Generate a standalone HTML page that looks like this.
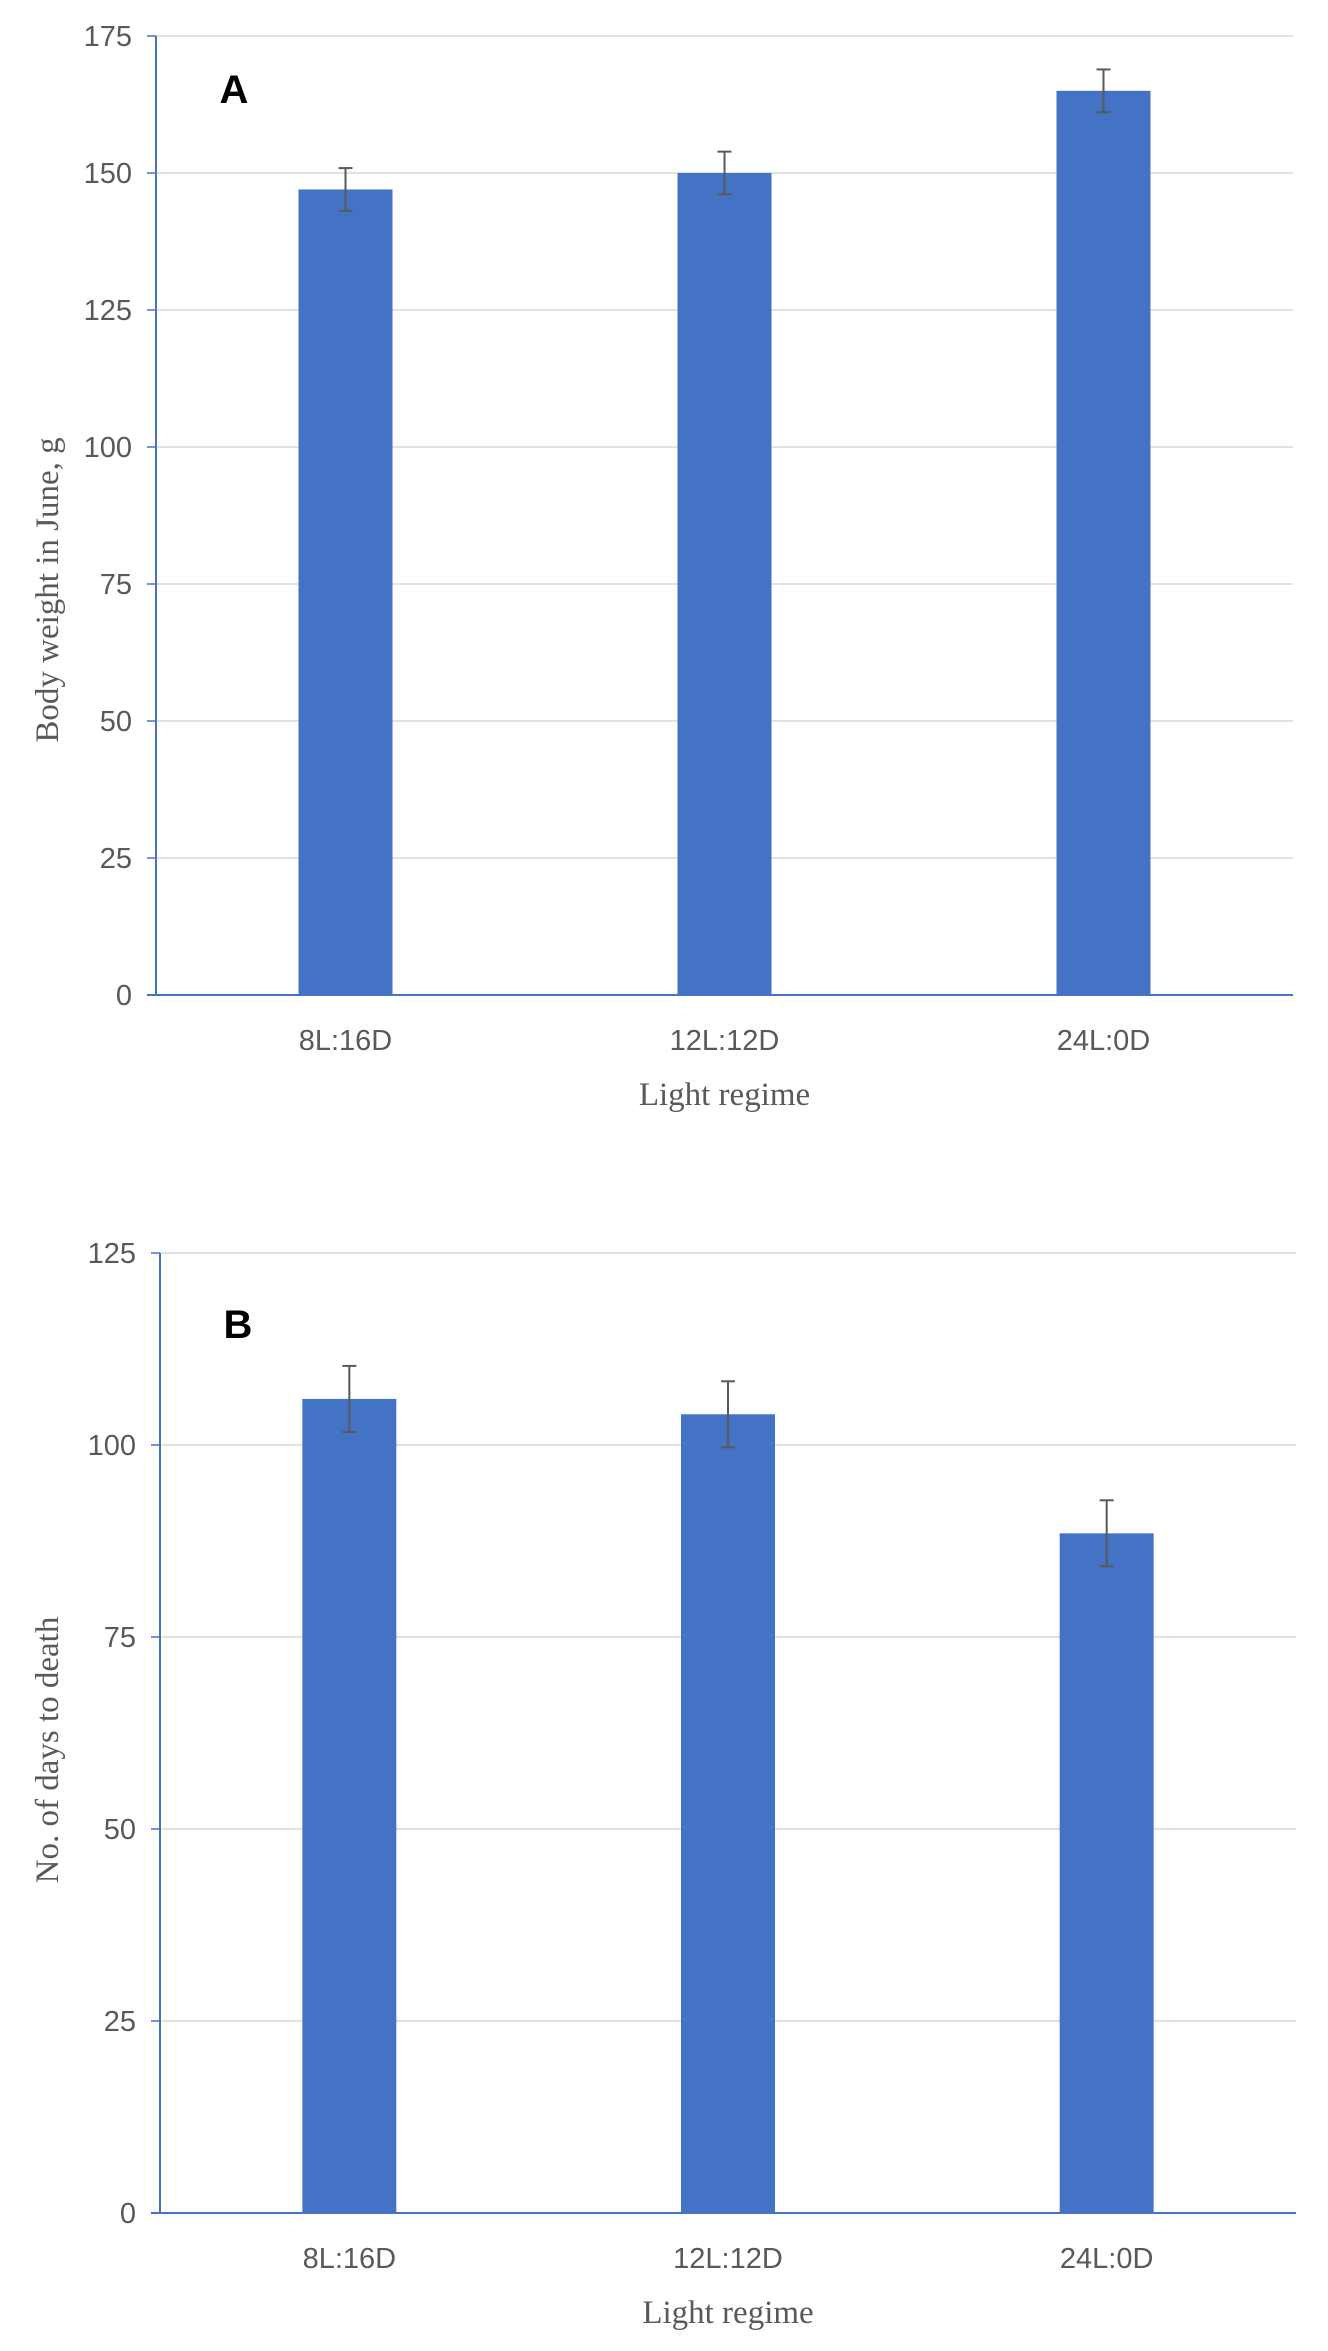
<!DOCTYPE html>
<html><head><meta charset="utf-8"><style>
html,body{margin:0;padding:0;background:#fff;}
svg{display:block;}
.tick{font-family:"Liberation Sans",sans-serif;font-size:29px;fill:#595959;}
.title{font-family:"Liberation Serif",serif;font-size:33px;fill:#595959;}
.panel{font-family:"Liberation Sans",sans-serif;font-size:40px;font-weight:bold;fill:#000;}
</style></head><body>
<svg id="chart" width="1328" height="2351" viewBox="0 0 1328 2351" xmlns="http://www.w3.org/2000/svg"></svg>
<script>
const categories = ["8L:16D", "12L:12D", "24L:0D"];
const weightValues = [147, 150, 165];
const weightErrors = [3.9, 3.9, 3.9];
const weightTicks = [0, 25, 50, 75, 100, 125, 150, 175];
const daysValues = [106, 104, 88.5];
const daysErrors = [4.3, 4.3, 4.3];
const daysTicks = [0, 25, 50, 75, 100, 125];

const NS = "http://www.w3.org/2000/svg";
const svg = document.getElementById("chart");
function mk(tag, attrs, parent) {
  const e = document.createElementNS(NS, tag);
  for (const k in attrs) e.setAttribute(k, attrs[k]);
  (parent || svg).appendChild(e);
  return e;
}

function drawPanel(cfg) {
  const g = mk("g", {});
  
  
  const maxV = cfg.ticks[cfg.ticks.length - 1];
  const y = v => cfg.y0 - (v / maxV) * (cfg.y0 - cfg.yTop);
  const band = (cfg.x1 - cfg.x0) / cfg.cats.length;
  const xc = i => cfg.x0 + band * (i + 0.5);
  // gridlines and tick labels
  cfg.ticks.forEach(t => {
    if (t > 0) {
      const gl = mk("line", {x1: cfg.x0, x2: cfg.x1, y1: y(t), y2: y(t), stroke: "#d9d9d9", "stroke-width": 1.5}, g);
      
      
    }
    const tk = mk("line", {x1: cfg.x0 - 9, x2: cfg.x0, y1: y(t), y2: y(t), stroke: "#4472c4", "stroke-width": 1.5}, g);
    
    
    const tl = mk("text", {x: cfg.x0 - 24, y: y(t) + 10, "text-anchor": "end", class: "tick"}, g);
    tl.textContent = t;
    
    
  });
  // bars
  const bw = 94;
  cfg.vals.forEach((v, i) => {
    const b = mk("rect", {x: xc(i) - bw / 2, y: y(v), width: bw, height: cfg.y0 - y(v), fill: "#4472c4"}, g);
    
    
    const e = cfg.errs[i];
    const eg = mk("g", {stroke: "#595959", "stroke-width": 2}, g);
    
    
    mk("line", {x1: xc(i), x2: xc(i), y1: y(v + e), y2: y(v - e)}, eg);
    mk("line", {x1: xc(i) - 7, x2: xc(i) + 7, y1: y(v + e), y2: y(v + e)}, eg);
    mk("line", {x1: xc(i) - 7, x2: xc(i) + 7, y1: y(v - e), y2: y(v - e)}, eg);
    const cl = mk("text", {x: xc(i), y: cfg.y0 + 55, "text-anchor": "middle", class: "tick"}, g);
    cl.textContent = cfg.cats[i];
    
    
  });
  // axes
  const ya = mk("line", {x1: cfg.x0, x2: cfg.x0, y1: cfg.yTop, y2: cfg.y0, stroke: "#4472c4", "stroke-width": 2}, g);
  
  
  const xa = mk("line", {x1: cfg.x0 - 9, x2: cfg.x1, y1: cfg.y0, y2: cfg.y0, stroke: "#4472c4", "stroke-width": 2}, g);
  
  
  // titles
  const xt = mk("text", {x: (cfg.x0 + cfg.x1) / 2, y: cfg.y0 + 110, "text-anchor": "middle", class: "title"}, g);
  xt.textContent = "Light regime";
  
  
  const yt = mk("text", {x: 0, y: 0, "text-anchor": "middle", class: "title", transform: `translate(${cfg.yTitleX},${cfg.yTitleY}) rotate(-90)`}, g);
  yt.textContent = cfg.yTitle;
  
  
  const pl = mk("text", {x: cfg.labelX, y: cfg.labelY, "text-anchor": "middle", class: "panel"}, g);
  pl.textContent = cfg.label;
  
  
}

drawPanel({name: "chart-a", cats: categories, vals: weightValues, errs: weightErrors, ticks: weightTicks,
  x0: 156, x1: 1293, y0: 995, yTop: 36, yTitle: "Body weight in June, g", yTitleX: 58, yTitleY: 590,
  label: "A", labelX: 234, labelY: 103});
drawPanel({name: "chart-b", cats: categories, vals: daysValues, errs: daysErrors, ticks: daysTicks,
  x0: 160, x1: 1296, y0: 2213, yTop: 1253, yTitle: "No. of days to death", yTitleX: 58, yTitleY: 1750,
  label: "B", labelX: 238, labelY: 1338});
</script>
</body></html>
